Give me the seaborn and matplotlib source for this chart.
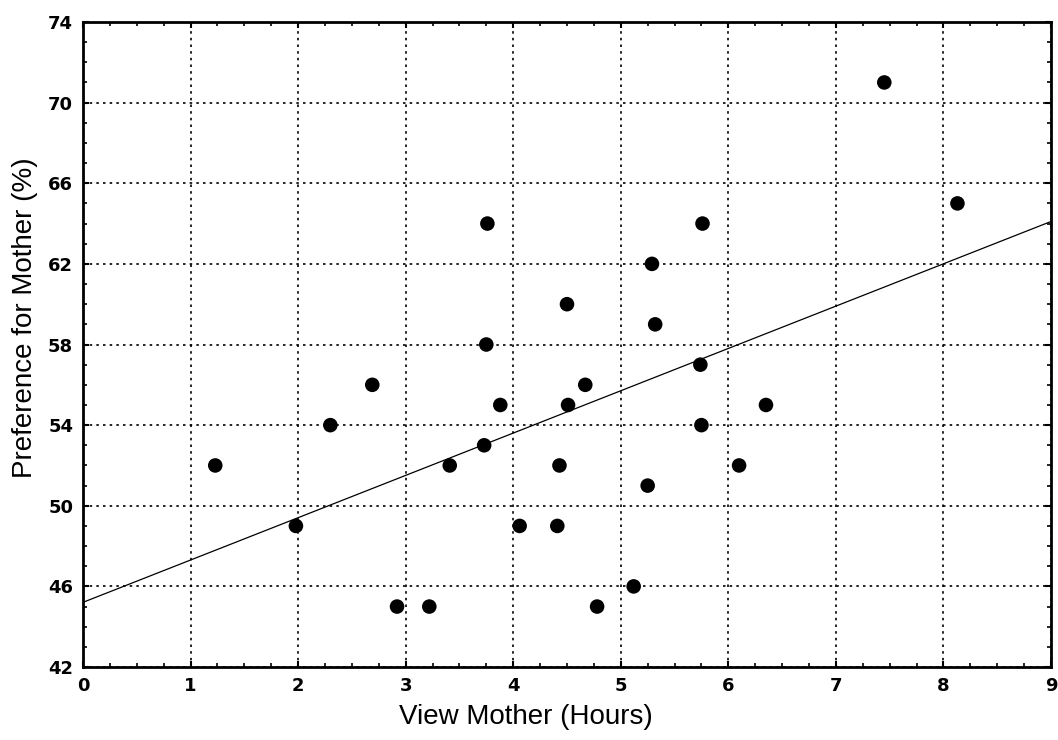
import numpy as np
import pandas as pd
import matplotlib
matplotlib.use("Agg")
import matplotlib.pyplot as plt
import seaborn as sns
from matplotlib.ticker import MultipleLocator

view_hours = [1.23, 1.98, 2.30, 2.69, 2.92, 3.22, 3.41, 3.73, 3.75, 3.76, 3.88, 4.06,
              4.41, 4.43, 4.50, 4.51, 4.67, 4.78, 5.12, 5.25, 5.29, 5.32, 5.74, 5.75,
              5.76, 6.10, 6.35, 7.45, 8.13]
preference = [52, 49, 54, 56, 45, 45, 52, 53, 58, 64, 55, 49,
              49, 52, 60, 55, 56, 45, 46, 51, 62, 59, 57, 54,
              64, 52, 55, 71, 65]
x_ticks = [0, 1, 2, 3, 4, 5, 6, 7, 8, 9]
y_ticks = [42, 46, 50, 54, 58, 62, 66, 70, 74]

df = pd.DataFrame({"View Mother (Hours)": view_hours, "Preference for Mother (%)": preference})

sns.set_theme(style="white")
plt.rcParams['font.family'] = ['Liberation Sans', 'DejaVu Sans']
plt.rcParams['text.color'] = 'black'
plt.rcParams['axes.labelcolor'] = 'black'
plt.rcParams['xtick.color'] = 'black'
plt.rcParams['ytick.color'] = 'black'

fig = plt.figure(figsize=(10.58, 7.40), dpi=100)
ax = fig.add_axes([0.0784, 0.0986, 0.915, 0.8717])
ax.set_xlim(0, 9)
ax.set_ylim(42, 74)

sns.regplot(data=df, x="View Mother (Hours)", y="Preference for Mother (%)", ax=ax,
            ci=None, truncate=False,
            scatter_kws=dict(s=110, color="black", edgecolor="none", alpha=1, zorder=3),
            line_kws=dict(color="black", lw=0.9, zorder=2))

ax.set_xlim(0, 9)
ax.set_ylim(42, 74)
ax.set_xticks(x_ticks)
ax.set_yticks(y_ticks)
ax.xaxis.set_minor_locator(MultipleLocator(0.25))
ax.yaxis.set_minor_locator(MultipleLocator(1))
ax.grid(True, which="major", color="black", linestyle=(0, (1.5, 2.5)), linewidth=1.2)
ax.tick_params(which="both", direction="in", top=True, right=True, bottom=True, left=True,
               color="black")
ax.tick_params(which="major", length=4, width=1.5, labelsize=13, pad=7, labelcolor="black")
ax.tick_params(which="minor", length=3, width=1.2)
for lab in ax.get_xticklabels() + ax.get_yticklabels():
    lab.set_fontweight("bold")
    lab.set_fontfamily("DejaVu Sans")
for sp in ax.spines.values():
    sp.set_color("black")
    sp.set_linewidth(2)
ax.set_xlabel("View Mother (Hours)", fontsize=20, color="black")
ax.set_ylabel("Preference for Mother (%)", fontsize=20, color="black")
ax.xaxis.set_label_coords(0.458, -0.057)
ax.yaxis.set_label_coords(-0.046, 0.541)

fig.savefig("out.png", dpi=100)
